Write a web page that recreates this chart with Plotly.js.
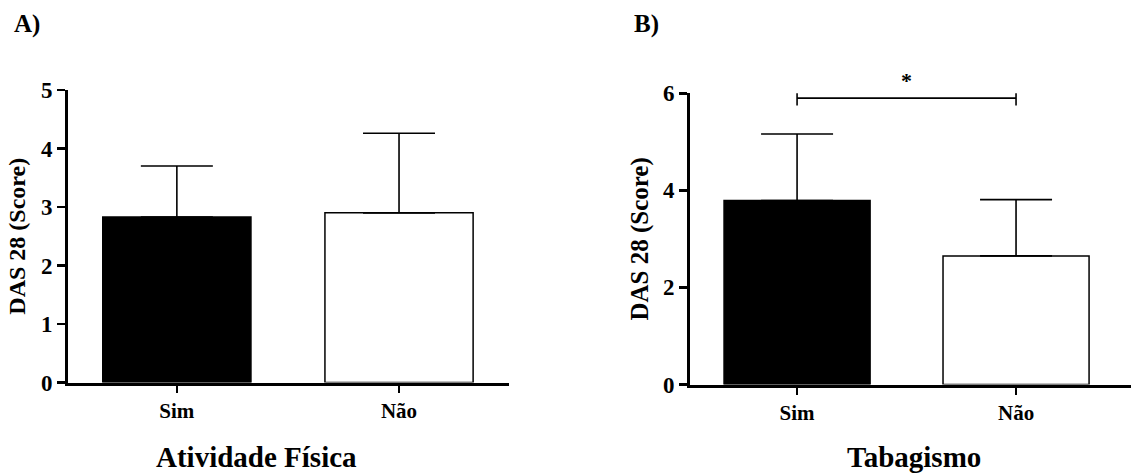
<!DOCTYPE html>
<html>
<head>
<meta charset="utf-8">
<script src="https://cdn.plot.ly/plotly-3.0.1.min.js"></script>
<style>html,body{margin:0;padding:0;background:#fff}#chart{width:1131px;height:475px}</style>
</head>
<body>
<div id="chart"></div>
<script>
// Data
const categories = ["Sim", "Não"];
const atividadeMeans = [2.83, 2.90];
const atividadeErr = [0.87, 1.36];
const tabagismoMeans = [3.79, 2.65];
const tabagismoErr = [1.37, 1.16];
const yTitle = "DAS 28 (Score)";
const panelTitles = ["Atividade Física", "Tabagismo"];
const panelLabels = ["A)", "B)"];
const sigLevel = 5.9;      // bracket height (B)
const sigMark = "*";
const yMaxB = 6;

const FONT = "Liberation Serif, Times New Roman, serif";
const barColors = ["#000000", "#ffffff"];

function barTrace(vals, errs, xa, ya) {
  return {
    type: "bar", x: categories, y: vals, xaxis: xa, yaxis: ya,
    width: 0.667,
    marker: {color: barColors, line: {color: "#000", width: 1.5}},
    error_y: {type: "data", symmetric: false, array: errs, arrayminus: errs.map(() => 0),
              color: "#000", thickness: 1.6, width: 36},
    showlegend: false, hoverinfo: "skip"
  };
}

const bracket = {
  type: "scatter", mode: "lines", xaxis: "x2", yaxis: "y2", cliponaxis: false,
  x: [categories[0], categories[0], null, categories[0], categories[1], null, categories[1], categories[1]],
  y: [sigLevel - 0.15, sigLevel + 0.15, null, sigLevel, sigLevel, null, sigLevel - 0.15, sigLevel + 0.15],
  line: {color: "#000", width: 1.6}, showlegend: false, hoverinfo: "skip"
};

const axisCommon = {
  showline: true, linecolor: "#000", linewidth: 3,
  ticks: "outside", tickcolor: "#000", tickwidth: 2.5, ticklen: 7,
  showgrid: false, zeroline: false, fixedrange: true
};

const layout = {
  width: 1131, height: 475,
  margin: {l: 0, r: 0, t: 0, b: 0},
  paper_bgcolor: "#fff", plot_bgcolor: "#fff",
  font: {family: FONT, color: "#000"},
  showlegend: false,
  xaxis: Object.assign({}, axisCommon, {
    domain: [68/1131, 509/1131], range: [-0.49, 1.495], anchor: "y",
    tickfont: {family: FONT, size: 21, weight: "bold"}
  }),
  yaxis: Object.assign({}, axisCommon, {
    domain: [(475-382.5)/475, (475-90)/475], range: [0, 5], dtick: 1, anchor: "x",
    ticklen: 8, tickfont: {family: FONT, size: 23, weight: "bold"},
    title: {text: yTitle, font: {family: FONT, size: 24, weight: "bold"}, standoff: 9}
  }),
  xaxis2: Object.assign({}, axisCommon, {
    domain: [690/1131, 1], range: [-0.489, 1.525], anchor: "y2",
    tickfont: {family: FONT, size: 21, weight: "bold"}
  }),
  yaxis2: Object.assign({}, axisCommon, {
    domain: [(475-384.5)/475, (475-93.3)/475], range: [0, yMaxB], dtick: 2, anchor: "x2",
    ticklen: 8, tickfont: {family: FONT, size: 23, weight: "bold"},
    title: {text: yTitle, font: {family: FONT, size: 25, weight: "bold"}, standoff: 8}
  }),
  annotations: [
    {text: panelLabels[0], xref: "paper", yref: "paper", x: 12/1131, y: (475-24)/475,
     xanchor: "left", yanchor: "middle", showarrow: false, font: {family: FONT, size: 25, weight: "bold"}},
    {text: panelLabels[1], xref: "paper", yref: "paper", x: 632/1131, y: (475-24)/475,
     xanchor: "left", yanchor: "middle", showarrow: false, font: {family: FONT, size: 25, weight: "bold"}},
    {text: panelTitles[0], xref: "paper", yref: "paper", x: 256/1131, y: (475-457)/475,
     xanchor: "center", yanchor: "middle", showarrow: false, font: {family: FONT, size: 29, weight: "bold"}},
    {text: panelTitles[1], xref: "paper", yref: "paper", x: 914/1131, y: (475-457)/475,
     xanchor: "center", yanchor: "middle", showarrow: false, font: {family: FONT, size: 29, weight: "bold"}},
    {text: sigMark, xref: "x2", yref: "y2 domain", x: 0.5, y: (sigLevel + 0.36) / yMaxB,
     xanchor: "center", yanchor: "middle", showarrow: false, font: {family: FONT, size: 22, weight: "bold"}}
  ]
};

Plotly.newPlot("chart", [
  barTrace(atividadeMeans, atividadeErr, "x", "y"),
  barTrace(tabagismoMeans, tabagismoErr, "x2", "y2"),
  bracket
], layout, {displayModeBar: false, staticPlot: true});
</script>
</body>
</html>
